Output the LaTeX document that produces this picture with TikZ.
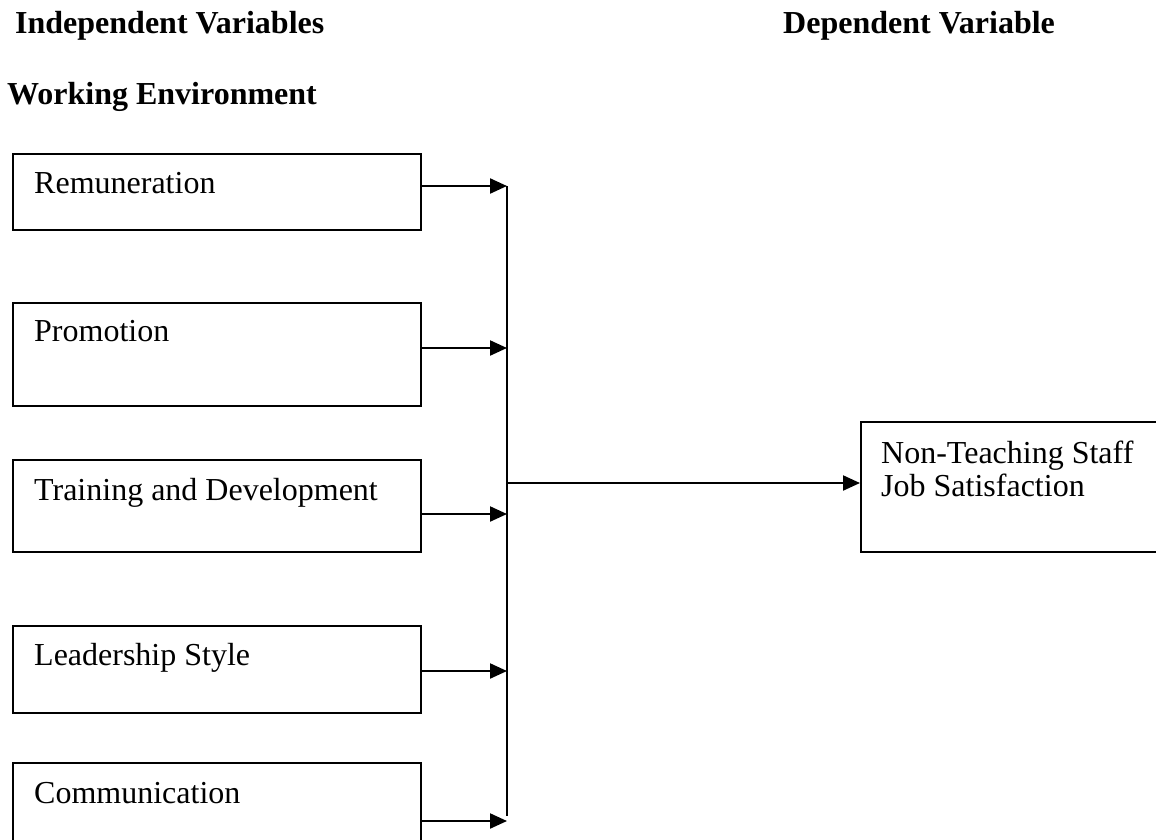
\documentclass[tikz,border=0pt]{standalone}
\usepackage{fontspec}
\setmainfont{Liberation Serif}
\usetikzlibrary{arrows.meta}
\tikzset{
  box/.style={draw=black, line width=2.2pt, rectangle, inner sep=0pt, anchor=north west},
  txt/.style={anchor=base west, inner sep=0pt, font=\fontsize{32}{33}\selectfont},
  head/.style={anchor=base west, inner sep=0pt, font=\fontsize{32}{33}\selectfont\bfseries},
  conn/.style={line width=2.2pt},
  arr/.style={line width=2.2pt, -{Triangle[length=17pt,width=15pt]}}
}
\begin{document}
\begin{tikzpicture}[x=1pt,y=-1pt]
\useasboundingbox (0,0) rectangle (1156,840);
\clip (0,0) rectangle (1156,840);
% headings
\node[head] (hi) at (15,34) {Independent Variables};
\node[head] (hd) at (783,34) {Dependent Variable};
\node[head] (hw) at (7,105) {Working Environment};
% left boxes
\node[box, minimum width=408pt, minimum height=76pt] (b1) at (12,153) {};
\node[box, minimum width=408pt, minimum height=103pt] (b2) at (12,302) {};
\node[box, minimum width=408pt, minimum height=92pt] (b3) at (12,459) {};
\node[box, minimum width=408pt, minimum height=87pt] (b4) at (12,625) {};
\node[box, minimum width=408pt, minimum height=110pt] (b5) at (12,762) {};
\node[txt] (t1) at (34,193) {Remuneration};
\node[txt] (t2) at (34,341) {Promotion};
\node[txt] (t3) at (34,500) {Training and Development};
\node[txt] (t4) at (34,665) {Leadership Style};
\node[txt] (t5) at (34,803) {Communication};
% right box
\node[box, minimum width=320pt, minimum height=130pt] (nt) at (860,421) {};
\node[txt] (tn) at (881,463) {\begin{tabular}[t]{@{}l@{}}Non-Teaching Staff\\Job Satisfaction\end{tabular}};
% bus
\coordinate (j1) at (507,186);
\coordinate (j2) at (507,348);
\coordinate (j3) at (507,514);
\coordinate (j4) at (507,671);
\coordinate (j5) at (507,821);
\coordinate (jb) at (507,816);
\coordinate (jm) at (507,483);
\draw[conn] (j1) -- (jb);
\draw[arr] (b1.east |- j1) -- (j1);
\draw[arr] (b2.east |- j2) -- (j2);
\draw[arr] (b3.east |- j3) -- (j3);
\draw[arr] (b4.east |- j4) -- (j4);
\draw[arr] (b5.east |- j5) -- (j5);
\draw[arr] (jm) -- (jm -| nt.west);
\end{tikzpicture}
\end{document}
